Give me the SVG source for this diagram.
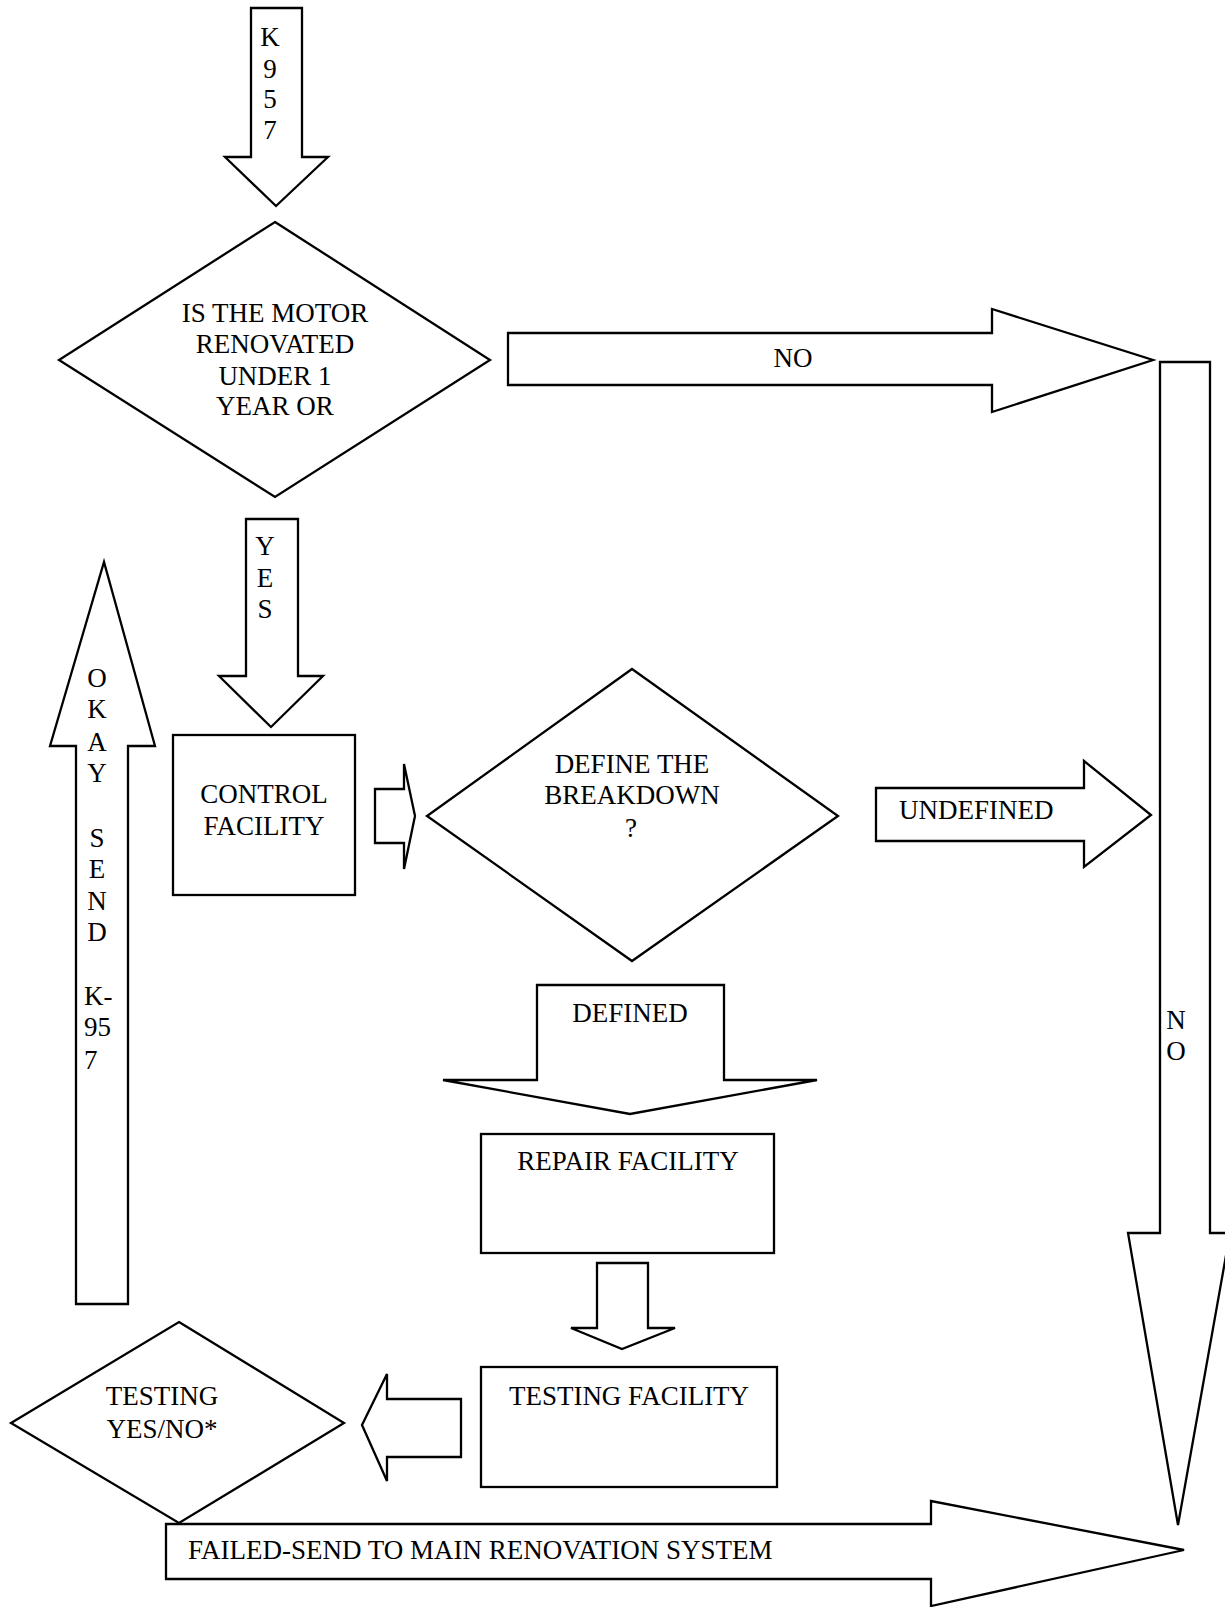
<svg xmlns="http://www.w3.org/2000/svg" width="1225" height="1607" viewBox="0 0 1225 1607">
<style>
.s{fill:#fff;stroke:#000;stroke-width:2.3;stroke-linejoin:miter}
text{font-family:"Liberation Serif","Times New Roman",serif;font-size:27px;fill:#000}
.m{text-anchor:middle}
</style>
<rect width="1225" height="1607" fill="#fff"/>
<g id="connectors">
  <g id="arrow-k957">
    <polygon class="s" points="251,8 302,8 302,157 328,157 276,206 225,157 251,157"/>
    <text class="m" x="270" y="46">K</text>
    <text class="m" x="270" y="78">9</text>
    <text class="m" x="270" y="108">5</text>
    <text class="m" x="270" y="139">7</text>
  </g>
  <g id="arrow-no-right">
    <polygon class="s" points="508,333 992,333 992,309 1153,360 992,412 992,385 508,385"/>
    <text class="m" x="793" y="367">NO</text>
  </g>
  <g id="arrow-no-down">
    <polygon class="s" points="1160,362 1210,362 1210,1233 1230,1233 1178,1525 1128,1233 1160,1233"/>
    <text class="m" x="1176" y="1029">N</text>
    <text class="m" x="1176" y="1060">O</text>
  </g>
  <g id="arrow-yes">
    <polygon class="s" points="246,519 298,519 298,676 323,676 271,727 219,676 246,676"/>
    <text class="m" x="265" y="555">Y</text>
    <text class="m" x="265" y="587">E</text>
    <text class="m" x="265" y="618">S</text>
  </g>
  <g id="arrow-okay">
    <polygon class="s" points="76,1304 76,746 50,746 104,562 155,746 128,746 128,1304"/>
    <text class="m" x="97" y="687">O</text>
    <text class="m" x="97" y="718">K</text>
    <text class="m" x="97" y="751">A</text>
    <text class="m" x="97" y="782">Y</text>
    <text class="m" x="97" y="847">S</text>
    <text class="m" x="97" y="878">E</text>
    <text class="m" x="97" y="910">N</text>
    <text class="m" x="97" y="941">D</text>
    <text x="84" y="1005">K-</text>
    <text x="84" y="1036">95</text>
    <text x="84" y="1069">7</text>
  </g>
  <g id="arrow-control-define">
    <polygon class="s" points="375,789 404,789 404,764 415,816 404,869 404,843 375,843"/>
  </g>
  <g id="arrow-undefined">
    <polygon class="s" points="876,788 1084,788 1084,761 1151,815 1084,867 1084,841 876,841"/>
    <text x="899" y="819">UNDEFINED</text>
  </g>
  <g id="arrow-defined">
    <polygon class="s" points="537,985 724,985 724,1080 817,1080 630,1114 443,1080 537,1080"/>
    <text class="m" x="630" y="1022">DEFINED</text>
  </g>
  <g id="arrow-repair-testing">
    <polygon class="s" points="597,1263 648,1263 648,1328 675,1328 622,1349 571,1328 597,1328"/>
  </g>
  <g id="arrow-testing-left">
    <polygon class="s" points="461,1399 461,1457 387,1457 387,1481 362,1425 387,1374 387,1399"/>
  </g>
  <g id="arrow-failed">
    <polygon class="s" points="166,1524 931,1524 931,1501 1184,1550 931,1606 931,1579 166,1579"/>
    <text x="188" y="1559">FAILED-SEND TO MAIN RENOVATION SYSTEM</text>
  </g>
</g>
<g id="node-motor-renovated">
  <polygon class="s" points="275,222 490,360 275,497 59,360"/>
  <text class="m" x="275" y="322">IS THE MOTOR</text>
  <text class="m" x="275" y="353">RENOVATED</text>
  <text class="m" x="275" y="385">UNDER 1</text>
  <text class="m" x="275" y="415">YEAR OR</text>
</g>
<g id="node-control-facility">
  <rect class="s" x="173" y="735" width="182" height="160"/>
  <text class="m" x="264" y="803">CONTROL</text>
  <text class="m" x="264" y="835">FACILITY</text>
</g>
<g id="node-define-breakdown">
  <polygon class="s" points="632,669 838,816 632,961 427,816"/>
  <text class="m" x="632" y="773">DEFINE THE</text>
  <text class="m" x="632" y="804">BREAKDOWN</text>
  <text class="m" x="631" y="837">?</text>
</g>
<g id="node-repair-facility">
  <rect class="s" x="481" y="1134" width="293" height="119"/>
  <text class="m" x="628" y="1170">REPAIR FACILITY</text>
</g>
<g id="node-testing-facility">
  <rect class="s" x="481" y="1367" width="296" height="120"/>
  <text class="m" x="629" y="1405">TESTING FACILITY</text>
</g>
<g id="node-testing-decision">
  <polygon class="s" points="179,1322 344,1423 179,1523 11,1423"/>
  <text class="m" x="162" y="1405">TESTING</text>
  <text class="m" x="162" y="1438">YES/NO*</text>
</g>
</svg>
